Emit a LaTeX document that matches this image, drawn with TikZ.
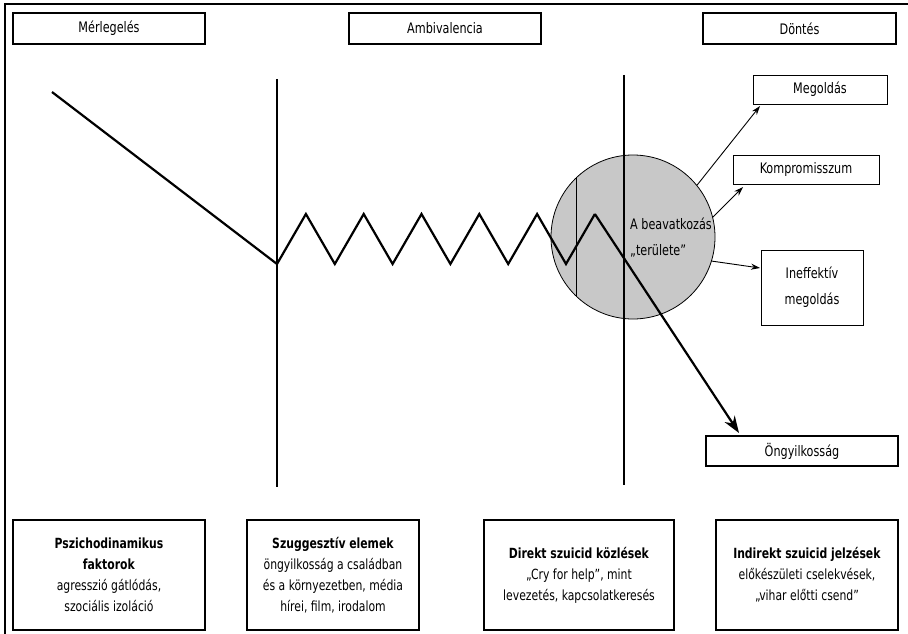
\documentclass[tikz,border=0pt]{standalone}
\usepackage{fontspec}
\setmainfont{DejaVu Sans Condensed}[FakeStretch=0.86]
\usetikzlibrary{arrows.meta}
\definecolor{circgray}{RGB}{200,200,200}
\begin{document}
\begin{tikzpicture}[x=1pt,y=-1pt,
  phasebox/.style={draw, line width=2.2pt, inner sep=0pt, minimum height=31pt, font=\fontsize{14.5}{16}\selectfont},
  outbox/.style={draw, line width=0.9pt, inner sep=0pt, font=\fontsize{14.5}{26}\selectfont, align=center},
  factorbox/.style={draw, line width=2.2pt, inner sep=0pt, minimum height=110pt, font=\fontsize{14}{21}\selectfont, align=center},
  mainline/.style={line width=2.2pt},
  thinarrow/.style={line width=0.9pt, -{Stealth[length=9pt,width=6pt]}},
  bigarrow/.style={line width=2.2pt, -{Stealth[length=17pt,width=12pt]}}
]
\useasboundingbox (0,0) rectangle (908,634);
% frame
\draw[line width=1.2pt] (5,634) -- (5,4) -- (908,4);

% phase boxes
\node[phasebox, minimum width=192pt] (merl) at (109,28.5) {Mérlegelés};
\node[phasebox, minimum width=192pt] (ambi) at (445,28.5) {Ambivalencia};
\node[phasebox, minimum width=193pt] (dont) at (799.5,28.5) {Döntés};

% circle
\node[circle, draw, line width=0.8pt, fill=circgray, minimum size=164pt, inner sep=0pt] (circ) at (633,237) {};
\draw[line width=0.9pt] (circ.133) -- (circ.-133);

% vertical lines
\coordinate (v1t) at (277,79);
\coordinate (v1b) at (277,487);
\coordinate (v2t) at (624,75);
\coordinate (v2b) at (624,485);
\draw[mainline] (v1t) -- (v1b);
\draw[mainline] (v2t) -- (v2b);

% zigzag
\coordinate (start) at (52,92);
\coordinate (z0) at (277,264);
\coordinate (z1) at (305.9,214);
\coordinate (z2) at (334.8,264);
\coordinate (z3) at (363.7,214);
\coordinate (z4) at (392.6,264);
\coordinate (z5) at (421.5,214);
\coordinate (z6) at (450.4,264);
\coordinate (z7) at (479.3,214);
\coordinate (z8) at (508.2,264);
\coordinate (z9) at (537.1,214);
\coordinate (z10) at (566,264);
\coordinate (z11) at (594.9,214);
\coordinate (tip) at (739,433);
\draw[mainline, line join=miter] (start) -- (z0) -- (z1) -- (z2) -- (z3) -- (z4) -- (z5) -- (z6) -- (z7) -- (z8) -- (z9) -- (z10) -- (z11);
\draw[bigarrow] (z11) -- (tip);

% outcome boxes
\node[outbox, minimum width=134pt, minimum height=29pt] (megold) at (820,89.5) {Megoldás};
\node[outbox, minimum width=146pt, minimum height=29pt] (komp) at (806,169.5) {Kompromisszum};
\node[outbox, minimum width=102pt, minimum height=75pt] (ineff) at (812,287.5) {Ineffektív\\megoldás};
\node[phasebox, minimum width=192pt, minimum height=30pt] (ong) at (802,451) {Öngyilkosság};

\coordinate (t1) at (760,106);
\coordinate (t2) at (743,187);
\coordinate (t3) at (760,268);
\draw[thinarrow] (circ.39) -- (t1);
\draw[thinarrow] (circ.14) -- (t2);
\draw[thinarrow] (circ.-17.5) -- (t3);

% circle text
\node[anchor=west, align=left, inner sep=0pt, font=\fontsize{14.5}{26}\selectfont] (ctext) at (630,238) {A beavatkozás\\„területe”};

% bottom boxes
\node[factorbox, minimum width=192pt] (b1) at (109,575) {\textbf{Pszichodinamikus}\\\textbf{faktorok}\\agresszió gátlódás,\\szociális izoláció};
\node[factorbox, minimum width=172pt] (b2) at (333,575) {\textbf{Szuggesztív elemek}\\öngyilkosság a családban\\és a környezetben, média\\hírei, film, irodalom};
\node[factorbox, minimum width=190pt] (b3) at (579,575) {\textbf{Direkt szuicid közlések}\\„Cry for help”, mint\\levezetés, kapcsolatkeresés};
\node[factorbox, minimum width=182pt] (b4) at (807,575) {\textbf{Indirekt szuicid jelzések}\\előkészületi cselekvések,\\„vihar előtti csend”};
\end{tikzpicture}
\end{document}
